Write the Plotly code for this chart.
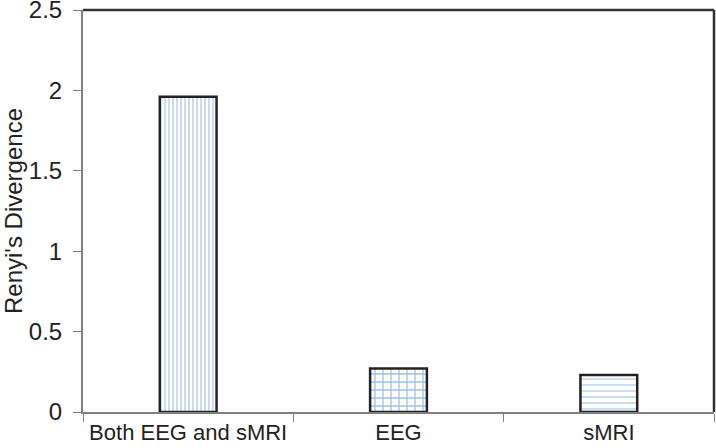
import plotly.graph_objects as go

categories = ["Both EEG and sMRI", "EEG", "sMRI"]
divergence = [1.96, 0.27, 0.23]
patterns = ["|", "+", "-"]
y_ticks = [0, 0.5, 1, 1.5, 2, 2.5]

fig = go.Figure()
fig.add_trace(go.Bar(
    x=categories,
    y=divergence,
    marker=dict(
        color="white",
        line=dict(color="#222222", width=2.5),
        pattern=dict(shape=patterns, fgcolor=["#4a8ad0", "#3f82cc", "#8fb6e0"],
                     bgcolor="white", size=[4, 8, 6], solidity=0.3),
    ),
    width=0.27,
))

# dark frame on top and right side of the plot area
fig.add_shape(type="line", xref="paper", yref="paper", x0=0, x1=1, y0=1, y1=1,
              line=dict(color="#333333", width=2.5))
fig.add_shape(type="line", xref="paper", yref="paper", x0=1, x1=1, y0=0, y1=1,
              line=dict(color="#333333", width=2.5))

fig.update_layout(
    width=716, height=448,
    margin=dict(l=83, r=2, t=10, b=36),
    plot_bgcolor="white", paper_bgcolor="white",
    font=dict(family="Liberation Sans, Arial", color="#222222"),
    showlegend=False,
    xaxis=dict(
        showline=True, linecolor="#808080", linewidth=2,
        ticks="outside", tickson="boundaries", ticklen=8, tickcolor="#808080",
        tickfont=dict(size=22), range=[-0.5, 2.5], automargin=False,
        ticklabeloverflow="allow",
    ),
    yaxis=dict(
        title=dict(text="Renyi's Divergence", font=dict(size=24), standoff=10),
        showline=True, linecolor="#808080", linewidth=2,
        ticks="outside", ticklen=8, tickcolor="#808080", ticklabelstandoff=6,
        tickvals=y_ticks, ticktext=[f"{v:g}" for v in y_ticks],
        tickfont=dict(size=24), range=[0, 2.5], showgrid=False, zeroline=False,
        automargin=False, ticklabeloverflow="allow",
    ),
)

# drop the default body margin so the figure fills the window
fig.write_html("out.html", config={"displayModeBar": False},
               post_script="document.body.style.margin='0px';")
